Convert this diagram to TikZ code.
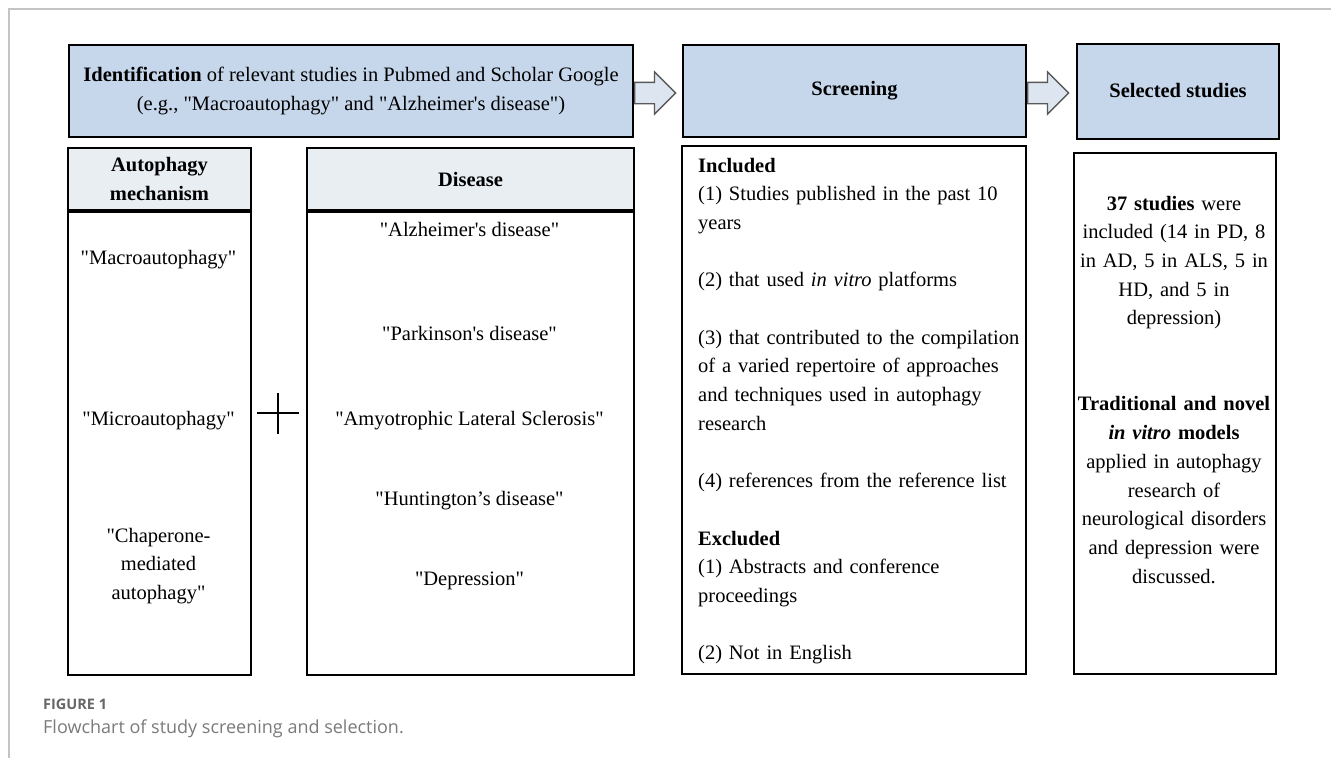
\documentclass[tikz,border=0pt]{standalone}
\usepackage{fontspec}
\setmainfont{Liberation Serif}
\newfontfamily\captionfont{Open Sans}
\usepackage{xcolor}
\usepackage{tikz}
\usetikzlibrary{shapes.arrows, shapes.misc, positioning, calc}
\definecolor{stagefill}{HTML}{C6D7EC}
\definecolor{headfill}{HTML}{E9EEF3}
\definecolor{arrowfill}{HTML}{DCE5F0}
\definecolor{arrowline}{HTML}{595959}
\definecolor{framegray}{HTML}{C4C4C4}
\definecolor{labelgray}{HTML}{666666}
\definecolor{captiongray}{HTML}{7A7A7A}
\newcommand{\boxfont}{\fontsize{20.5}{28.7}\selectfont}
\newcommand{\sq}{\textquotesingle}
\newcommand{\dq}{\textquotedbl}
\tikzset{
  stage/.style={
    rectangle, draw=black, line width=2pt,
    fill=stagefill, inner sep=0pt, align=center,
    font=\boxfont,
  },
  colhead/.style={
    rectangle, draw=black, line width=2pt,
    fill=headfill, inner sep=0pt, align=center,
    font=\boxfont\bfseries,
  },
  colbody/.style={
    rectangle, draw=black, line width=2pt,
    fill=white, inner sep=0pt,
  },
  entry/.style={inner sep=0pt, anchor=base, font=\boxfont},
  flowarrow/.style={
    single arrow, draw=arrowline, fill=arrowfill, line width=1.3pt,
    minimum height=41pt, inner xsep=0pt, inner ysep=10pt,
    single arrow head extend=10.5pt, single arrow tip angle=90,
  },
  plussign/.style={draw, cross out, rotate=45, minimum size=27pt, inner sep=0pt, line width=2pt},
  frameline/.style={draw=framegray, line width=1.5pt},
}

\begin{document}
\begin{tikzpicture}[x=1pt, y=-1pt, node distance=0pt]
  \useasboundingbox (0,0) rectangle (1331,758);

  % page frame
  \draw[frameline] (9,758) -- (9,9) -- (1331,9);

  % stages
  \node[stage, minimum width=564pt, minimum height=92pt] (ident) at (351,91)
    {\textbf{Identification} of relevant studies in Pubmed and Scholar Google\\
     (e.g., \dq Macroautophagy\dq{} and \dq Alzheimer\sq s disease\dq)};
  \node[stage, minimum width=343pt, minimum height=92pt, right=48pt of ident] (screen) {\textbf{Screening}};
  \node[stage, minimum width=202pt, minimum height=95pt, right=49pt of screen] (selected) {\textbf{Selected studies}};

  \node[flowarrow, right=0pt of ident, yshift=-2pt] (arr1) {};
  \node[flowarrow, right=0pt of screen, yshift=-2pt] (arr2) {};

  % search terms
  \node[colhead, minimum width=183pt, minimum height=62pt, anchor=north west] (mechhead) at (67,147) {Autophagy\\mechanism};
  \node[colbody, minimum width=183pt, minimum height=463pt, below=of mechhead] (mechbody) {};
  \node[colhead, minimum width=327pt, minimum height=62pt, anchor=north west] (dishead) at (306,147) {Disease};
  \node[colbody, minimum width=327pt, minimum height=463pt, below=of dishead] (disbody) {};

  \node[entry] (macro) at (158.5,264) {\dq Macroautophagy\dq};
  \node[entry] (micro) at (158.5,425) {\dq Microautophagy\dq};
  \node[entry, text width=180pt, align=center] (cma) at (158.5,542) {\dq Chaperone-\\mediated\\autophagy\dq};

  \node[entry] (ad) at (469.5,236) {\dq Alzheimer\sq s disease\dq};
  \node[entry] (pd) at (469.5,340) {\dq Parkinson\sq s disease\dq};
  \node[entry] (als) at (469.5,425) {\dq Amyotrophic Lateral Sclerosis\dq};
  \node[entry] (hd) at (469.5,505) {\dq Huntington’s disease\dq};
  \node[entry] (dep) at (469.5,585) {\dq Depression\dq};

  \node[plussign] (plus) at (278,413) {};

  % criteria
  \node[colbody, minimum width=344pt, minimum height=528pt, anchor=north west] (criteria) at (681,145) {};
  \node[entry, anchor=base west, text width=335pt, align=left] (crittext) at (698,172)
    {\textbf{Included}\\
     (1) Studies published in the past 10\\
     years\\[28.7pt]
     (2) that used \textit{in vitro} platforms\\[28.7pt]
     (3) that contributed to the compilation\\
     of a varied repertoire of approaches\\
     and techniques used in autophagy\\
     research\\[28.7pt]
     (4) references from the reference list\\[28.7pt]
     \textbf{Excluded}\\
     (1) Abstracts and conference\\
     proceedings\\[28.7pt]
     (2) Not in English};

  % outcome
  \node[colbody, minimum width=202pt, minimum height=521pt, anchor=north west] (outcome) at (1073,152) {};
  \node[entry, text width=200pt, align=center] (outtext) at (1174,210)
    {\textbf{37 studies} were\\
     included (14 in PD, 8\\
     in AD, 5 in ALS, 5 in\\
     HD, and 5 in\\
     depression)\\[57.4pt]
     \textbf{Traditional and novel}\\
     \textbf{\textit{in vitro} models}\\
     applied in autophagy\\
     research of\\
     neurological disorders\\
     and depression were\\
     discussed.};

  % caption
  \node[anchor=base west, inner sep=0pt, text=labelgray, font=\captionfont\bfseries\fontsize{14.5}{17}\selectfont] (figlabel) at (43,709) {FIGURE 1};
  \node[anchor=base west, inner sep=0pt, text=captiongray, font=\captionfont\fontsize{18}{21}\selectfont] (figcaption) at (43,733) {Flowchart of study screening and selection.};

\end{tikzpicture}
\end{document}
